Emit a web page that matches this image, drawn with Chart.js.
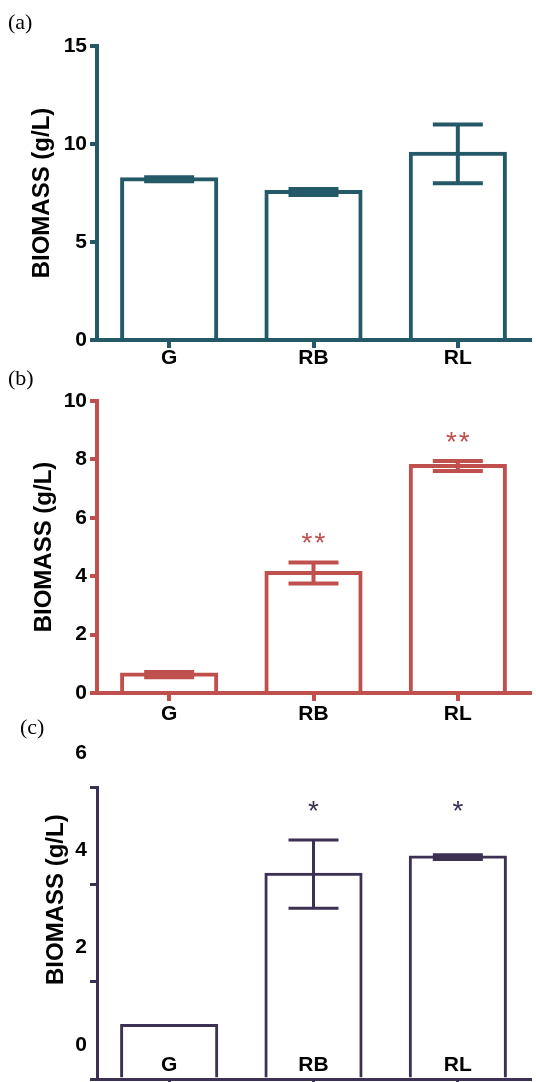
<!DOCTYPE html>
<html>
<head>
<meta charset="utf-8">
<title>Biomass</title>
<script src="https://cdn.jsdelivr.net/npm/chart.js@4.4.1/dist/chart.umd.min.js"></script>
<style>
  html, body { margin: 0; padding: 0; background: #fff; }
  body { width: 536px; height: 1082px; position: relative; overflow: hidden; }
  .panel { position: absolute; left: 0; width: 536px; }
  .tag {
    position: absolute;
    font-family: "Liberation Serif", "Times New Roman", serif;
    font-size: 22px;
    color: #000;
  }
</style>
</head>
<body>
<div class="panel" style="top:0;height:372px"><canvas id="chartA"></canvas></div>
<div class="panel" style="top:362px;height:362px"><canvas id="chartB"></canvas></div>
<div class="panel" style="top:724px;height:358px"><canvas id="chartC"></canvas></div>
<div class="tag" style="left:8px;top:9px">(a)</div>
<div class="tag" style="left:8px;top:365px">(b)</div>
<div class="tag" style="left:20px;top:714px">(c)</div>

<script>
// ===== Data =====
const categories = ["G", "RB", "RL"];

const biomassA = [8.3, 7.65, 9.6];
const errorA = [0.1, 0.15, 1.5];
const ticksA = [0, 5, 10, 15];

const biomassB = [0.7, 4.18, 7.84];
const errorB = [0.09, 0.36, 0.17];
const starsB = ["", "**", "**"];
const ticksB = [0, 2, 4, 6, 8, 10];

const biomassC = [1.13, 4.24, 4.59];
const errorC = [0, 0.7, 0.05];
const starsC = ["", "*", "*"];
const ticksC = [0, 2, 4, 6];

const yTitle = "BIOMASS (g/L)";
const sans = "'Liberation Sans', Arial, sans-serif";

// error bars + significance stars, drawn through the y scale
const errorBarPlugin = {
  id: "errorBars",
  afterDatasetsDraw(chart) {
    const ds = chart.data.datasets[0];
    const meta = chart.getDatasetMeta(0);
    const y = chart.scales.y;
    const ctx = chart.ctx;
    const capHalf = 25;
    // bar outline is drawn inside the bar, so centre the error bar on it
    const shift = ds.borderWidth / 2;
    const tops = ds.data.map((v, i) => y.getPixelForValue(v + ds.errors[i]) + shift);
    const rowTop = Math.min(...tops.filter((t, i) => ds.stars && ds.stars[i]));
    ctx.save();
    ctx.strokeStyle = ds.borderColor;
    ctx.fillStyle = ds.borderColor;
    ctx.lineWidth = ds.borderWidth;
    meta.data.forEach((bar, i) => {
      const err = ds.errors[i];
      const top = tops[i];
      const bottom = y.getPixelForValue(ds.data[i] - err) + shift;
      if (err > 0) {
        ctx.beginPath();
        ctx.moveTo(bar.x, top);
        ctx.lineTo(bar.x, bottom);
        ctx.moveTo(bar.x - capHalf, top);
        ctx.lineTo(bar.x + capHalf, top);
        ctx.moveTo(bar.x - capHalf, bottom);
        ctx.lineTo(bar.x + capHalf, bottom);
        ctx.stroke();
      }
      const star = ds.stars ? ds.stars[i] : "";
      if (star) {
        const size = 28;
        ctx.font = size + "px " + sans;
        ctx.letterSpacing = "2px";
        ctx.textAlign = "center";
        ctx.textBaseline = "alphabetic";
        const cy = (ds.starRow ? rowTop : top) - ds.starGap;
        ctx.fillText(star, bar.x + 1, cy + size * 0.57);
      }
    });
    ctx.restore();
  }
};

function buildPanel(id, p) {
  const ctx = document.getElementById(id).getContext("2d");
  return new Chart(ctx, {
    type: "bar",
    data: {
      labels: categories,
      datasets: [{
        data: p.values,
        errors: p.errors,
        stars: p.stars,
        starGap: p.starGap,
        starRow: p.starRow,
        backgroundColor: "rgba(255,255,255,0)",
        borderColor: p.color,
        borderWidth: p.lw,
        borderSkipped: "bottom",
        barPercentage: 0.68,
        categoryPercentage: 1
      }]
    },
    options: {
      responsive: true,
      maintainAspectRatio: false,
      animation: false,
      layout: { padding: { top: p.padTop, right: 6, left: 0, bottom: 0 } },
      plugins: { legend: { display: false }, tooltip: { enabled: false } },
      scales: {
        x: {
          offset: true,
          grid: { offset: false, drawOnChartArea: false, tickLength: 8, lineWidth: p.lw, color: p.color },
          border: { color: p.color, width: p.lw },
          ticks: {
            color: "#000",
            font: { family: sans, size: 21, weight: "bold" },
            padding: p.xPad,
            mirror: !!p.xMirror,
            maxRotation: 0
          },
          afterFit: (s) => { s.height = p.xHeight; }
        },
        y: {
          min: 0,
          max: p.ticks[p.ticks.length - 1],
          afterBuildTicks: (s) => { s.ticks = p.ticks.map(v => ({ value: v })); },
          grid: { drawOnChartArea: false, tickLength: 7, lineWidth: p.lw, color: p.color },
          border: { color: p.color, width: p.lw },
          ticks: {
            color: "#000",
            font: { family: sans, size: 21, weight: "bold" },
            padding: 3,
            labelOffset: p.labelOffset || 0
          },
          title: {
            display: true,
            text: p.title,
            color: "#000",
            font: { family: sans, size: 24, weight: "bold" },
            padding: { top: p.titlePad, bottom: 0 }
          },
          afterFit: (s) => {
            s.width = 97;
            s.paddingTop = 0;
            s.paddingBottom = 0;
          }
        }
      }
    },
    plugins: [errorBarPlugin]
  });
}

document.addEventListener("DOMContentLoaded", () => {
  buildPanel("chartA", {
    values: biomassA, errors: errorA, ticks: ticksA,
    color: "#245a68", lw: 4, padTop: 46, xHeight: 32, xPad: -2,
    title: yTitle, titlePad: 28
  });
  buildPanel("chartB", {
    values: biomassB, errors: errorB, stars: starsB, starGap: 26, ticks: ticksB,
    color: "#c0504d", lw: 4, padTop: 39, xHeight: 31, xPad: 1,
    title: yTitle, titlePad: 30
  });
  // panel (c): category labels sit inside the plot, tick labels and title
  // sit higher than the tick marks
  buildPanel("chartC", {
    values: biomassC, errors: errorC, stars: starsC, starGap: 36, starRow: true,
    ticks: ticksC,
    color: "#3c3152", lw: 3, padTop: 63, xHeight: 3, xPad: 1, xMirror: true,
    labelOffset: -34,
    title: "          " + yTitle, titlePad: 42
  });
});
</script>
</body>
</html>
